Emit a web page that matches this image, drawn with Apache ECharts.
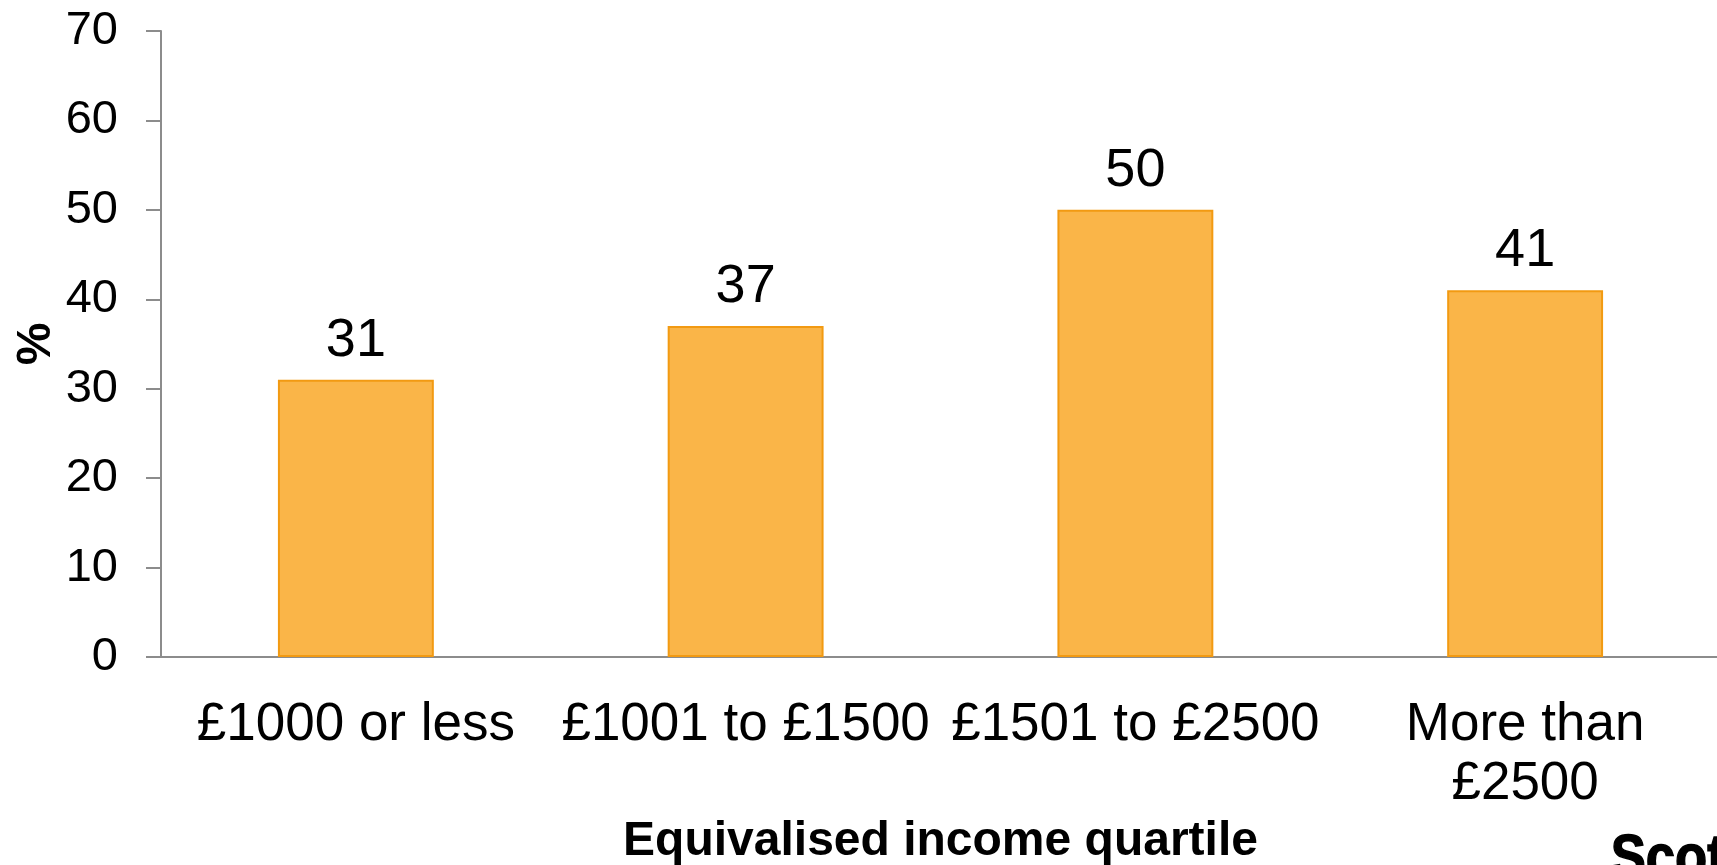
<!DOCTYPE html>
<html>
<head>
<meta charset="utf-8">
<script src="https://cdn.jsdelivr.net/npm/echarts@6/dist/echarts.min.js"></script>
<style>
html,body{margin:0;padding:0;background:#fff;}
#chart{width:1717px;height:865px;}
</style>
</head>
<body>
<div id="chart"></div>
<script>
const categories = ['£1000 or less', '£1001 to £1500', '£1501 to £2500', 'More than\n£2500'];
const values = [31, 37, 50, 41];
const yTicks = [0, 10, 20, 30, 40, 50, 60, 70];
const xAxisTitle = 'Equivalised income quartile';
const yAxisTitle = '%';
const cornerText = 'Scottish Government';

const FONT = '"Liberation Sans", Arial, Helvetica, sans-serif';
const chart = echarts.init(document.getElementById('chart'), null, {renderer: 'canvas'});
chart.setOption({
  backgroundColor: '#ffffff',
  animation: false,
  textStyle: {fontFamily: FONT},
  grid: {left: 161, top: 31, width: 1559, height: 626, containLabel: false, outerBoundsMode: 'none'},
  xAxis: {
    type: 'category',
    data: categories,
    name: xAxisTitle,
    nameLocation: 'middle',
    nameGap: 161,
    nameMoveOverlap: false,
    nameTextStyle: {fontFamily: FONT, fontSize: 48, fontWeight: 'bold', color: '#000'},
    axisLine: {show: true, lineStyle: {color: '#8c8c8c', width: 2}},
    axisTick: {show: false},
    axisLabel: {
      fontFamily: FONT, fontSize: 53, color: '#000', margin: 39,
      lineHeight: 59, interval: 0, hideOverlap: false
    },
    splitLine: {show: false}
  },
  yAxis: {
    type: 'value',
    min: yTicks[0],
    max: yTicks[yTicks.length - 1],
    interval: yTicks[1] - yTicks[0],
    name: yAxisTitle,
    nameLocation: 'middle',
    nameRotate: 90,
    nameGap: 100,
    nameMoveOverlap: false,
    nameTextStyle: {fontFamily: FONT, fontSize: 48, fontWeight: 'bold', color: '#000'},
    axisLine: {show: true, lineStyle: {color: '#8c8c8c', width: 2}},
    axisTick: {show: true, inside: false, length: 15, lineStyle: {color: '#8c8c8c', width: 2}},
    axisLabel: {fontFamily: FONT, fontSize: 47, color: '#000', margin: 43},
    splitLine: {show: false}
  },
  series: [{
    type: 'bar',
    data: values,
    barWidth: '40%',
    itemStyle: {color: '#FAB548', borderColor: '#F29A12', borderWidth: 2},
    label: {
      show: true, position: 'top', distance: 12,
      fontFamily: FONT, fontSize: 54, color: '#000'
    }
  }],
  graphic: [{
    type: 'text',
    left: 1610,
    top: 828,
    scaleX: 0.85,
    style: {text: cornerText, font: 'bold 62px ' + FONT, fill: '#000', stroke: '#000', lineWidth: 1.5}
  }]
});
</script>
</body>
</html>
